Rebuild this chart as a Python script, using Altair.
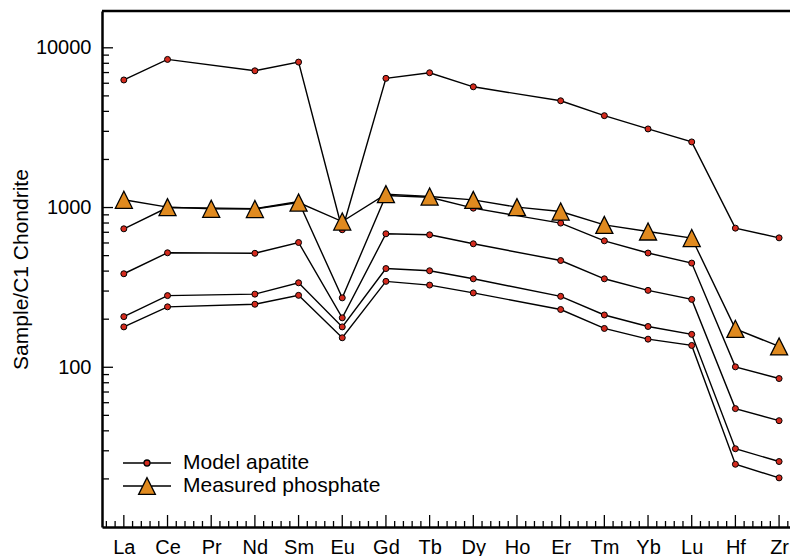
import json
import altair as alt
import pandas as pd

# ---------------- data ----------------
elements = ["La", "Ce", "Pr", "Nd", "Sm", "Eu", "Gd", "Tb", "Dy", "Ho",
            "Er", "Tm", "Yb", "Lu", "Hf", "Zr"]
model_elements = ["La", "Ce", "Nd", "Sm", "Eu", "Gd", "Tb", "Dy",
                  "Er", "Tm", "Yb", "Lu", "Hf", "Zr"]

model_1 = [6290, 8460, 7180, 8140, 726, 6440, 6980, 5700, 4660, 3760, 3105, 2575, 743, 646]
model_2 = [736, 1000, 985, 1090, 272, 1190, 1160, 991, 799, 619, 519, 449, 100.6, 85]
model_3 = [385, 521, 517, 604, 204, 685, 675, 593, 466, 358, 303, 266, 55.1, 46.3]
model_4 = [207.5, 281, 287, 338, 179, 415, 402, 358, 278, 212.5, 180, 160.7, 30.9, 25.7]
model_5 = [179, 239, 248, 282, 153, 345, 327, 292, 230, 175, 150, 137, 24.7, 20.3]

measured = [1118, 1006, 982, 979, 1074, 817, 1213, 1172, 1117, 1006,
            944, 779, 708, 644, 174, 135]

series_names = ["Model apatite", "Measured phosphate"]

y_major_ticks = [100, 1000, 10000]
y_minor_ticks = [20, 30, 40, 50, 60, 70, 80, 90,
                 200, 300, 400, 500, 600, 700, 800, 900,
                 2000, 3000, 4000, 5000, 6000, 7000, 8000, 9000]
x_major_ticks = list(range(len(elements)))
x_minor_ticks = [round(i / 5, 1) for i in range(-2, 77) if i % 5 != 0]

# ---------------- tables ----------------
rows = []
for k, vals in enumerate([model_1, model_2, model_3, model_4, model_5]):
    for el, v in zip(model_elements, vals):
        rows.append({"element": el, "idx": elements.index(el), "value": v,
                     "sample": f"model{k + 1}", "series": series_names[0]})
for el, v in zip(elements, measured):
    rows.append({"element": el, "idx": elements.index(el), "value": v,
                 "sample": "measured", "series": series_names[1]})
df = pd.DataFrame(rows)

RED = "#D42B1E"
ORANGE = "#E08A1F"
FONT = "Liberation Sans"

W, H = 688, 516

x_scale = alt.Scale(domain=[-0.5, 15.25], nice=False, zero=False)
y_scale = alt.Scale(type="log", domain=[10, 17000], nice=False)

label_expr = f"{json.dumps(elements)}[datum.value]"

x_axis = alt.Axis(values=x_major_ticks, labelExpr=label_expr, ticks=False, grid=False,
                  labelFontSize=20, labelPadding=10, labelColor="black",
                  domainColor="black", domainWidth=2.5, title=None,
                  labelFlush=False, labelOverlap=False)
y_axis = alt.Axis(values=y_major_ticks, format="d", ticks=False, grid=False,
                  labelFontSize=20, labelPadding=11, labelColor="black",
                  domainColor="black", domainWidth=2.5,
                  title="Sample/C1 Chondrite", titleFontSize=21, titleFontWeight="normal",
                  titleColor="black", titleX=-81, titleY=H / 2, titleBaseline="middle",
                  titleAlign="center", titleAngle=270)

X = alt.X("idx:Q", scale=x_scale, axis=x_axis)
Y = alt.Y("value:Q", scale=y_scale, axis=y_axis)

base = alt.Chart(df)

lines = base.mark_line(color="black", strokeWidth=1.4).encode(
    x=X, y=Y, detail="sample:N", order="idx:Q")

model_pts = base.transform_filter(alt.datum.series == series_names[0]).mark_point(
    shape="circle", filled=True, fill=RED, stroke="black", strokeWidth=1,
    size=36, opacity=1).encode(x=X, y=Y)

TRI = "M0,-1L-1,1L1,1Z"
meas_pts = base.transform_filter(alt.datum.series == series_names[1]).mark_point(
    shape=TRI, filled=True, fill=ORANGE, stroke="black", strokeWidth=1.3,
    size=290, opacity=1).encode(x=X, y=Y)

# legend glyphs: a line segment with the marker in its middle (unit = 10 px at size 400)
LEG_CIRCLE = ("M-2.4,0H-0.3M0.3,0H2.4M0.3,0A0.3,0.3,0,1,1,-0.3,0"
              "A0.3,0.3,0,1,1,0.3,0Z")
LEG_TRI = "M-2.4,0H-0.42M0.42,0H2.4M0,-0.84L-0.84,0.84L0.84,0.84Z"

legend = alt.Legend(title=None, orient="none", legendX=34, legendY=441,
                    symbolSize=400, labelFontSize=21, labelOffset=25, labelLimit=400,
                    labelColor="black", padding=0, rowPadding=2,
                    symbolStrokeWidth=1.3, symbolOpacity=1, labelFont=FONT)

legend_layer = base.transform_filter("false").mark_point(
    filled=True, strokeWidth=1.3).encode(
    x=X, y=Y,
    fill=alt.Fill("series:N", scale=alt.Scale(domain=series_names, range=[RED, ORANGE]),
                  legend=legend),
    stroke=alt.Stroke("series:N", scale=alt.Scale(domain=series_names, range=["black", "black"]),
                      legend=legend),
    shape=alt.Shape("series:N", scale=alt.Scale(domain=series_names, range=[LEG_CIRCLE, LEG_TRI]),
                    legend=legend),
)

ymaj = alt.Chart(pd.DataFrame({"value": y_major_ticks})).mark_rule(
    color="black", strokeWidth=1.3).encode(y=Y, x=alt.value(0), x2=alt.value(11))
ymin = alt.Chart(pd.DataFrame({"value": y_minor_ticks})).mark_rule(
    color="black", strokeWidth=1.3).encode(y=Y, x=alt.value(0), x2=alt.value(7))
xmaj = alt.Chart(pd.DataFrame({"idx": x_major_ticks})).mark_rule(
    color="black", strokeWidth=1.3).encode(x=X, y=alt.value(H), y2=alt.value(H - 12))
xmin = alt.Chart(pd.DataFrame({"idx": x_minor_ticks})).mark_rule(
    color="black", strokeWidth=1.3).encode(x=X, y=alt.value(H), y2=alt.value(H - 6))

top_border = alt.Chart(pd.DataFrame({"a": [0]})).mark_rule(
    color="black", strokeWidth=2.5).encode(
    x=alt.value(0), x2=alt.value(W + 5), y=alt.value(0))

chart = alt.layer(
    lines, ymaj, ymin, xmaj, xmin, top_border, model_pts, meas_pts, legend_layer
).properties(
    width=W, height=H,
    padding={"left": 102, "top": 11, "right": 0, "bottom": 29},
    autosize=alt.AutoSizeParams(type="none"),
).configure_view(stroke=None).configure(
    font=FONT
)

chart.save("out.html", embed_options={"renderer": "svg", "actions": False})
